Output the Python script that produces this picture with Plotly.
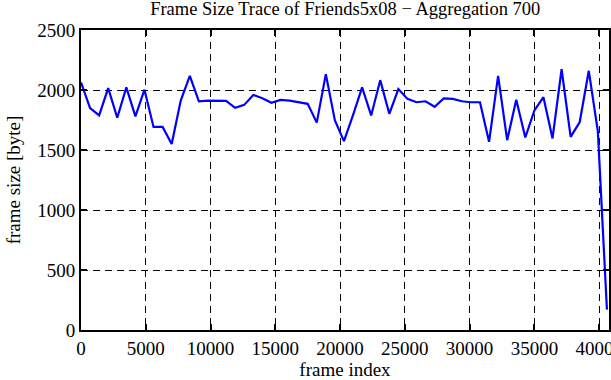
import plotly.graph_objects as go

agg = 700
frame_size = [
    2063, 1849, 1788, 2016, 1769, 2022, 1780, 2003, 1692, 1692,
    1550, 1912, 2118, 1906, 1912, 1909, 1909, 1851, 1876, 1959,
    1932, 1893, 1918, 1912, 1901, 1885, 1728, 2132, 1747, 1574,
    1790, 2022, 1788, 2082, 1802, 2008, 1926, 1898, 1906, 1860,
    1930, 1926, 1906, 1898, 1898, 1568, 2118, 1582, 1918, 1604,
    1830, 1940, 1596, 2173, 1610, 1733, 2160, 1655, 170,
]
frame_index = [i * agg for i in range(len(frame_size))]
x_ticks = [0, 5000, 10000, 15000, 20000, 25000, 30000, 35000, 40000]
y_ticks = [0, 500, 1000, 1500, 2000, 2500]

font = "Liberation Serif"
fs = 19

fig = go.Figure()
fig.add_trace(go.Scatter(x=frame_index, y=frame_size, mode="lines",
                         line=dict(color="#0000FF", width=2.2)))

axis_common = dict(
    showline=True, linecolor="black", linewidth=2, mirror="allticks",
    ticks="inside", ticklen=6, tickwidth=1.5, tickcolor="black",
    showgrid=True, gridcolor="black", gridwidth=1, griddash="7px,5px",
    zeroline=False, automargin=False, ticklabeloverflow="allow",
    tickfont=dict(family=font, size=fs, color="black"),
)

fig.update_xaxes(range=[0, 40760], tickvals=x_ticks,
                 ticktext=[str(v) for v in x_ticks],
                 title=dict(text="frame index", font=dict(family=font, size=fs, color="black"), standoff=5),
                 **axis_common)
fig.update_yaxes(range=[0, 2500], tickvals=y_ticks,
                 ticktext=[str(v) for v in y_ticks],
                 title=dict(text="frame size [byte]", font=dict(family=font, size=fs, color="black"), standoff=12),
                 **axis_common)

fig.update_layout(
    width=611, height=380,
    margin=dict(l=81, r=2, t=30, b=50, autoexpand=False),
    paper_bgcolor="white", plot_bgcolor="white",
    showlegend=False,
    title=dict(text="Frame Size Trace of Friends5x08 \u2212 Aggregation 700",
               font=dict(family=font, size=18.5, color="black"),
               x=0.565, xanchor="center", y=0.995, yanchor="top"),
)

fig.write_html("out.html", config={"displayModeBar": False},
               post_script="document.body.style.margin='0';document.body.style.overflow='hidden';")
